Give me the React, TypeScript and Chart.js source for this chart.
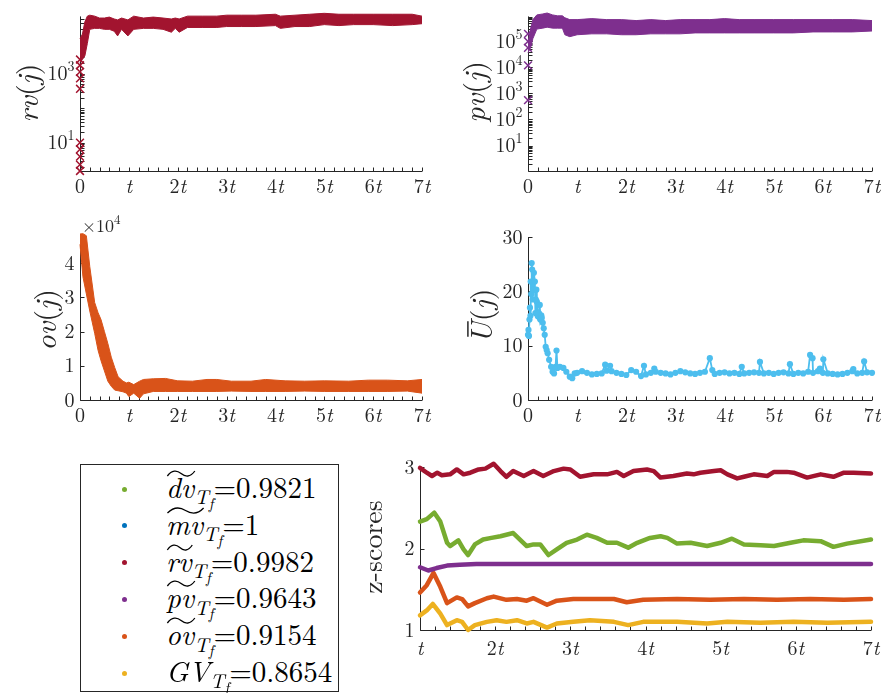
import React, { useEffect, useRef } from 'react';
import { Chart, registerables } from 'chart.js';

Chart.register(...registerables);

const W = 881;
const H = 693;
const AXIS = '#262626';
const SERIF = '"Latin Modern Roman", "Liberation Serif", serif';

const C_RV = '#A2142F';
const C_PV = '#7E2F8E';
const C_OV = '#D95319';
const C_U = '#4DBEEE';
const C_DV = '#77AC30';
const C_MV = '#0072BD';
const C_GV = '#EDB120';

// time axis, in units of t
const tTickValues = [0, 1, 2, 3, 4, 5, 6, 7];
const tTickLabels = ['0', 't', '2t', '3t', '4t', '5t', '6t', '7t'];
const zTimeTickValues = [1, 2, 3, 4, 5, 6, 7];
const zTimeTickLabels = ['t', '2t', '3t', '4t', '5t', '6t', '7t'];

// rv(j): spread of the sampled values (upper / lower edge) over time
const rvT = [0, 0.05, 0.1, 0.15, 0.2, 0.3, 0.4, 0.5, 0.6, 0.7, 0.77, 0.85, 0.98, 1.1, 1.3, 1.5, 1.7, 1.87, 1.95, 2.03, 2.2, 2.5, 2.8, 3.0, 3.3, 3.6, 4.0, 4.1, 4.4, 4.7, 5.0, 5.3, 5.6, 6.0, 6.4, 6.8, 7.0];
const rvHigh = [10300, 14150, 32100, 46900, 50000, 46900, 41300, 41300, 44000, 38800, 36500, 41300, 36500, 46900, 41300, 44000, 41300, 38800, 41300, 38800, 46900, 46900, 46900, 50000, 50000, 50000, 53200, 46900, 50000, 53200, 56600, 53200, 53200, 53200, 53200, 53200, 46900];
const rvLow = [2130, 2575, 3315, 7530, 19400, 20700, 20700, 19400, 19400, 17100, 12500, 19400, 12500, 19400, 20700, 20700, 19400, 16000, 20700, 16000, 22000, 22000, 22000, 23400, 23400, 23400, 24900, 20700, 23400, 23400, 26600, 24900, 26600, 26600, 24900, 26600, 28300];
const rvStart = [1.5, 2.3, 3.9, 6.4, 10, 365, 730, 1130, 1760, 2580];
const rvTickValues = [10, 1000];
const rvTickExponents = ['1', '3'];

// pv(j)
const pvT = [0, 0.05, 0.1, 0.18, 0.3, 0.39, 0.5, 0.6, 0.7, 0.75, 0.85, 1.0, 1.3, 1.6, 1.9, 2.2, 2.5, 2.8, 3.1, 3.4, 3.7, 4.0, 4.3, 4.6, 5.0, 5.4, 5.8, 6.2, 6.6, 7.0];
const pvHigh = [85000, 297000, 686000, 1040000, 1130000, 1230000, 1040000, 960000, 960000, 810000, 686000, 686000, 750000, 686000, 686000, 631000, 686000, 631000, 686000, 686000, 686000, 750000, 686000, 686000, 686000, 686000, 686000, 686000, 686000, 631000];
const pvLow = [36600, 56000, 129000, 297000, 323000, 351000, 323000, 323000, 323000, 180000, 152000, 180000, 195000, 195000, 180000, 180000, 195000, 195000, 195000, 212000, 212000, 212000, 212000, 212000, 212000, 212000, 231000, 231000, 231000, 251000];
const pvStart = [556, 12000, 56000, 100000, 195000];
const pvTickValues = [10, 100, 1000, 10000, 100000];
const pvTickExponents = ['1', '2', '3', '4', '5'];

// ov(j)
const ovT = [0, 0.06, 0.13, 0.2, 0.3, 0.37, 0.43, 0.5, 0.57, 0.64, 0.71, 0.78, 0.88, 0.95, 1.0, 1.1, 1.22, 1.3, 1.5, 1.75, 2.0, 2.3, 2.6, 2.8, 3.1, 3.5, 3.8, 4.2, 4.6, 5.0, 5.5, 5.9, 6.3, 6.7, 7.0];
const ovHigh = [48500, 48600, 48000, 39000, 28500, 25500, 23500, 20000, 16500, 12500, 9500, 6800, 5500, 5000, 5200, 4500, 5500, 6000, 6200, 6300, 5600, 5500, 6000, 6000, 5500, 5500, 6000, 5600, 5500, 5600, 5500, 5800, 5800, 5600, 6000];
const ovLow = [45500, 36000, 31000, 26000, 19500, 14500, 11500, 8500, 5500, 4000, 2900, 2700, 2400, 2000, 1000, 2000, 500, 1800, 2500, 2500, 2500, 2500, 2500, 2500, 2600, 2500, 2500, 2500, 2600, 2500, 2500, 2500, 2500, 2600, 2000];
const ovTickValues = [0, 10000, 20000, 30000, 40000];
const ovTickLabels = ['0', '1', '2', '3', '4'];

// Ū(j)
const uT = [0, 0.01, 0.02, 0.03, 0.04, 0.05, 0.055, 0.065, 0.075, 0.085, 0.095, 0.11, 0.12, 0.14, 0.15, 0.16, 0.17, 0.18, 0.2, 0.22, 0.24, 0.25, 0.27, 0.28, 0.3, 0.32, 0.34, 0.36, 0.38, 0.4, 0.43, 0.47, 0.5, 0.53, 0.56, 0.58, 0.6, 0.65, 0.72, 0.78, 0.85, 0.9, 0.95,
  1.0, 1.1, 1.2, 1.3, 1.4, 1.5, 1.57, 1.6, 1.67, 1.7, 1.8, 1.9, 2.0, 2.1, 2.2, 2.3, 2.36, 2.4, 2.5, 2.57, 2.6, 2.7, 2.8, 2.9, 3.0, 3.1, 3.2, 3.3, 3.4, 3.5, 3.6, 3.7, 3.75, 3.8, 3.9, 4.0, 4.1, 4.2, 4.3, 4.35, 4.4, 4.5, 4.6, 4.7, 4.72, 4.8, 4.9, 5.0, 5.1, 5.2, 5.3, 5.33, 5.4, 5.5, 5.6, 5.7, 5.74, 5.79, 5.8, 5.9, 5.94, 6.0, 6.01, 6.1, 6.2, 6.3, 6.4, 6.5, 6.6, 6.62, 6.7, 6.8, 6.84, 6.9, 7.0];
const uV = [12.0, 12.9, 11.8, 14.8, 17.0, 15.5, 21.8, 19.5, 25.2, 24.0, 18.5, 20.3, 23.4, 21.8, 16.0, 18.5, 20.3, 18.1, 15.4, 16.0, 17.5, 14.8, 15.6, 15.1, 14.2, 13.2, 12.0, 9.8, 9.2, 8.6, 7.4, 6.1, 5.2, 4.9, 6.1, 9.1, 5.9, 6.1, 5.9, 5.2, 4.3, 4.0, 4.9,
  5.0, 5.3, 5.0, 4.7, 4.8, 4.9, 6.5, 5.4, 6.3, 5.3, 5.0, 4.8, 4.6, 5.5, 5.2, 4.4, 6.3, 4.7, 5.0, 5.8, 5.2, 5.0, 4.9, 4.7, 5.0, 5.3, 5.1, 4.9, 4.8, 5.0, 5.2, 7.7, 5.5, 4.8, 5.0, 5.1, 4.9, 5.0, 4.8, 6.1, 4.9, 5.0, 5.1, 5.0, 7.0, 4.9, 5.0, 4.8, 5.0, 5.1, 4.9, 6.6, 4.8, 5.0, 4.9, 5.2, 8.3, 7.7, 5.0, 5.3, 5.8, 5.0, 7.5, 4.9, 4.8, 4.7, 4.8, 5.0, 5.3, 5.7, 4.9, 5.0, 7.1, 5.1, 5.0];
const uTickValues = [0, 10, 20, 30];
const uTickLabels = ['0', '10', '20', '30'];

// z-scores
const zRvT = [1.0, 1.09, 1.16, 1.23, 1.29, 1.40, 1.49, 1.58, 1.67, 1.78, 1.87, 1.98, 2.07, 2.15, 2.24, 2.38, 2.51, 2.64, 2.78, 2.91, 3.0, 3.13, 3.31, 3.49, 3.62, 3.71, 3.84, 4.02, 4.11, 4.20, 4.37, 4.55, 4.64, 4.73, 4.91, 5.0, 5.09, 5.22, 5.31, 5.44, 5.62, 5.71, 5.88, 5.97, 6.15, 6.33, 6.50, 6.64, 6.77, 7.0];
const zRv = [2.99, 2.93, 2.89, 2.93, 2.90, 2.91, 2.97, 2.91, 2.93, 2.97, 2.98, 3.04, 2.95, 2.88, 2.95, 2.89, 2.95, 2.89, 2.95, 2.98, 2.97, 2.88, 2.91, 2.91, 2.94, 2.89, 2.95, 2.97, 2.95, 2.87, 2.89, 2.92, 2.91, 2.93, 2.95, 2.96, 2.91, 2.86, 2.88, 2.91, 2.89, 2.94, 2.94, 2.93, 2.87, 2.91, 2.88, 2.93, 2.93, 2.92];
const zDvT = [1.0, 1.09, 1.19, 1.27, 1.36, 1.40, 1.51, 1.58, 1.64, 1.73, 1.84, 1.95, 2.07, 2.24, 2.33, 2.42, 2.51, 2.60, 2.71, 2.82, 2.95, 3.09, 3.22, 3.35, 3.49, 3.62, 3.77, 3.89, 4.06, 4.20, 4.29, 4.42, 4.60, 4.82, 5.0, 5.15, 5.31, 5.53, 5.71, 5.93, 6.10, 6.33, 6.50, 6.68, 7.0];
const zDv = [2.33, 2.36, 2.44, 2.33, 2.07, 2.03, 2.10, 1.99, 1.92, 2.05, 2.11, 2.13, 2.15, 2.19, 2.11, 2.03, 2.05, 2.05, 1.92, 1.99, 2.07, 2.11, 2.17, 2.13, 2.07, 2.07, 2.01, 2.07, 2.13, 2.15, 2.13, 2.06, 2.07, 2.03, 2.07, 2.12, 2.05, 2.04, 2.03, 2.07, 2.10, 2.09, 2.02, 2.06, 2.11];
const zPvT = [1.0, 1.11, 1.22, 1.36, 1.53, 1.75, 2.5, 3.5, 4.5, 5.5, 6.5, 7.0];
const zPv = [1.77, 1.73, 1.76, 1.79, 1.80, 1.81, 1.81, 1.81, 1.81, 1.81, 1.81, 1.81];
const zOvT = [1.0, 1.09, 1.18, 1.27, 1.36, 1.49, 1.56, 1.64, 1.73, 1.89, 1.98, 2.15, 2.29, 2.42, 2.51, 2.69, 2.82, 3.04, 3.31, 3.58, 3.75, 3.97, 4.42, 4.86, 5.31, 5.75, 6.19, 6.64, 7.0];
const zOv = [1.46, 1.55, 1.70, 1.53, 1.33, 1.40, 1.38, 1.29, 1.33, 1.39, 1.41, 1.37, 1.38, 1.36, 1.39, 1.31, 1.36, 1.38, 1.38, 1.38, 1.34, 1.37, 1.38, 1.37, 1.38, 1.37, 1.38, 1.37, 1.38];
const zGvT = [1.0, 1.09, 1.17, 1.27, 1.36, 1.49, 1.56, 1.64, 1.73, 1.89, 2.02, 2.15, 2.29, 2.42, 2.51, 2.69, 2.82, 3.04, 3.26, 3.58, 3.77, 3.97, 4.42, 4.82, 5.09, 5.53, 5.97, 6.42, 7.0];
const zGv = [1.18, 1.24, 1.32, 1.20, 1.06, 1.12, 1.10, 1.00, 1.06, 1.10, 1.12, 1.10, 1.12, 1.08, 1.10, 1.03, 1.08, 1.10, 1.12, 1.10, 1.06, 1.10, 1.10, 1.08, 1.10, 1.09, 1.10, 1.09, 1.10];
const zTickValues = [1, 2, 3];
const zTickLabels = ['1', '2', '3'];

// legend entries
const legendKeys = ['dv', 'mv', 'rv', 'pv', 'ov', 'GV'];
const legendTilde = [true, true, true, true, true, false];
const legendValues = ['0.9821', '1', '0.9982', '0.9643', '0.9154', '0.8654'];
const legendColors = [C_DV, C_MV, C_RV, C_PV, C_OV, C_GV];

type Run = { s: string; it?: boolean; sup?: boolean; bar?: boolean };

function fontFor(r: Run, size: number) {
  const sz = r.sup ? Math.round(size * 0.7) : size;
  return `${r.it ? 'italic ' : ''}${sz}px ${SERIF}`;
}

function drawRuns(ctx: CanvasRenderingContext2D, runs: Run[], x: number, y: number, align: 'left' | 'center' | 'right', size: number) {
  let total = 0;
  for (const r of runs) {
    ctx.font = fontFor(r, size);
    total += ctx.measureText(r.s).width;
  }
  let cx = align === 'center' ? x - total / 2 : align === 'right' ? x - total : x;
  const base = y + size * 0.33;
  ctx.textAlign = 'left';
  ctx.textBaseline = 'alphabetic';
  for (const r of runs) {
    ctx.font = fontFor(r, size);
    const w = ctx.measureText(r.s).width;
    ctx.fillText(r.s, cx, r.sup ? base - size * 0.45 : base);
    if (r.bar) {
      ctx.beginPath();
      ctx.lineWidth = Math.max(1, size * 0.05);
      ctx.moveTo(cx + w * 0.3, base - size * 0.8);
      ctx.lineTo(cx + w * 1.0, base - size * 0.8);
      ctx.stroke();
    }
    cx += w;
  }
}

function timeRuns(label: string): Run[] {
  if (label.endsWith('t')) {
    const head = label.slice(0, -1);
    return head ? [{ s: head }, { s: 't', it: true }] : [{ s: 't', it: true }];
  }
  return [{ s: label }];
}

function powRuns(exp: string): Run[] {
  return [{ s: '10' }, { s: exp, sup: true }];
}

function stepTicks(min: number, max: number, step: number) {
  const out: number[] = [];
  for (let i = 0; min + i * step <= max + 1e-9; i++) out.push(+(min + i * step).toFixed(6));
  return out;
}

function logTicks(min: number, max: number) {
  const out: number[] = [];
  for (let k = -1; k <= 7; k++) {
    for (let m = 1; m <= 9; m++) {
      const v = m * Math.pow(10, k);
      if (v >= min && v <= max) out.push(v);
    }
  }
  return out;
}

interface Panel {
  area: [number, number, number, number];
  headroom: number;
  xMin: number;
  xMax: number;
  yType: 'linear' | 'logarithmic';
  yMin: number;
  yMax: number;
  xTicks: number[];
  xTickText: string[];
  xLabelGap: number;
  yTicks: number[];
  yTickText: Run[][];
  yMinor: number[];
  yLabel: Run[];
  yLabelAt: [number, number];
  yLabelSize: number;
  note?: { runs: Run[]; at: [number, number]; size: number };
  datasets: any[];
}

const pts = (xs: number[], ys: number[]) => xs.map((x, i) => ({ x, y: ys[i] }));

function band(xs: number[], high: number[], low: number[], color: string) {
  return [
    { data: pts(xs, high), borderColor: color, backgroundColor: color, borderWidth: 1, pointRadius: 0, fill: false, clip: false },
    { data: pts(xs, low), borderColor: color, backgroundColor: color, borderWidth: 1, pointRadius: 0, fill: '-1', clip: false },
  ];
}

function startMarks(values: number[], color: string) {
  return {
    data: values.map((v) => ({ x: 0, y: v })),
    showLine: false,
    pointStyle: 'crossRot',
    pointRadius: 5.5,
    borderColor: color,
    borderWidth: 1.5,
    clip: false,
  };
}

function zLine(xs: number[], ys: number[], color: string) {
  return {
    data: pts(xs, ys),
    borderColor: color,
    borderWidth: 4.5,
    pointRadius: 0,
    borderCapStyle: 'round',
    borderJoinStyle: 'round',
    clip: false,
  };
}

function buildPanels(): Panel[] {
  const rvMin = 1.5, rvMax = 46000;
  const pvMin = 1.05, pvMax = 910000;
  return [
    {
      area: [80, 7, 422, 171], headroom: 10, xMin: 0, xMax: 7, yType: 'logarithmic', yMin: rvMin, yMax: rvMax,
      xTicks: tTickValues, xTickText: tTickLabels, xLabelGap: 15,
      yTicks: rvTickValues, yTickText: rvTickExponents.map(powRuns), yMinor: logTicks(rvMin, rvMax),
      yLabel: [{ s: 'rv', it: true }, { s: '(' }, { s: 'j', it: true }, { s: ')' }], yLabelAt: [30, 93], yLabelSize: 30,
      datasets: [...band(rvT, rvHigh, rvLow, C_RV), startMarks(rvStart, C_RV)],
    },
    {
      area: [528, 7, 872, 171], headroom: 10, xMin: 0, xMax: 7, yType: 'logarithmic', yMin: pvMin, yMax: pvMax,
      xTicks: tTickValues, xTickText: tTickLabels, xLabelGap: 15,
      yTicks: pvTickValues, yTickText: pvTickExponents.map(powRuns), yMinor: logTicks(pvMin, pvMax),
      yLabel: [{ s: 'pv', it: true }, { s: '(' }, { s: 'j', it: true }, { s: ')' }], yLabelAt: [477, 92], yLabelSize: 30,
      datasets: [...band(pvT, pvHigh, pvLow, C_PV), startMarks(pvStart, C_PV)],
    },
    {
      area: [80, 234, 422, 400], headroom: 6, xMin: 0, xMax: 7, yType: 'linear', yMin: 0, yMax: 48500,
      xTicks: tTickValues, xTickText: tTickLabels, xLabelGap: 15,
      yTicks: ovTickValues, yTickText: ovTickLabels.map((s) => [{ s }]), yMinor: [],
      yLabel: [{ s: 'ov', it: true }, { s: '(' }, { s: 'j', it: true }, { s: ')' }], yLabelAt: [48, 320], yLabelSize: 30,
      note: { runs: [{ s: '×10' }, { s: '4', sup: true }], at: [82, 226], size: 18 },
      datasets: band(ovT, ovHigh, ovLow, C_OV),
    },
    {
      area: [528, 237, 872, 400], headroom: 0, xMin: 0, xMax: 7, yType: 'linear', yMin: 0, yMax: 30,
      xTicks: tTickValues, xTickText: tTickLabels, xLabelGap: 15,
      yTicks: uTickValues, yTickText: uTickLabels.map((s) => [{ s }]), yMinor: [],
      yLabel: [{ s: 'U', it: true, bar: true }, { s: '(' }, { s: 'j', it: true }, { s: ')' }], yLabelAt: [484, 316], yLabelSize: 30,
      datasets: [{
        data: pts(uT, uV), borderColor: C_U, backgroundColor: C_U, borderWidth: 1.8,
        pointRadius: 3.1, pointBorderWidth: 0, pointBackgroundColor: C_U, clip: false,
      }],
    },
    {
      area: [420, 467, 871, 630], headroom: 0, xMin: 1, xMax: 7, yType: 'linear', yMin: 1, yMax: 3,
      xTicks: zTimeTickValues, xTickText: zTimeTickLabels, xLabelGap: 18,
      yTicks: zTickValues, yTickText: zTickLabels.map((s) => [{ s }]), yMinor: [],
      yLabel: [{ s: 'z-scores' }], yLabelAt: [375, 547], yLabelSize: 28,
      datasets: [
        zLine(zRvT, zRv, C_RV),
        zLine(zDvT, zDv, C_DV),
        zLine(zPvT, zPv, C_PV),
        zLine(zOvT, zOv, C_OV),
        zLine(zGvT, zGv, C_GV),
      ],
    },
  ];
}

function axesPlugin(p: Panel) {
  return {
    id: 'matlabAxes',
    beforeDatasetsDraw(chart: any) {
      const ctx: CanvasRenderingContext2D = chart.ctx;
      const xs = chart.scales.x;
      const ys = chart.scales.y;
      const { left, right, bottom } = chart.chartArea;
      const top = ys.getPixelForValue(p.yMax);
      const lx = Math.round(left) + 0.5;
      const by = Math.round(bottom) + 0.5;
      ctx.save();
      ctx.strokeStyle = AXIS;
      ctx.fillStyle = AXIS;
      ctx.lineWidth = 1;
      ctx.beginPath();
      ctx.moveTo(lx, top);
      ctx.lineTo(lx, by);
      ctx.lineTo(right, by);
      ctx.stroke();

      const tick = 4;
      ctx.beginPath();
      for (const v of stepTicks(p.xMin, p.xMax, 0.2)) {
        const px = Math.round(xs.getPixelForValue(v)) + 0.5;
        ctx.moveTo(px, by);
        ctx.lineTo(px, by - tick);
      }
      for (const v of [...p.yTicks, ...p.yMinor]) {
        const py = Math.round(ys.getPixelForValue(v)) + 0.5;
        ctx.moveTo(lx, py);
        ctx.lineTo(lx + tick, py);
      }
      ctx.stroke();

      const tickSize = 20;
      p.xTicks.forEach((v, i) => {
        drawRuns(ctx, timeRuns(p.xTickText[i]), xs.getPixelForValue(v), by + p.xLabelGap, 'center', tickSize);
      });
      p.yTicks.forEach((v, i) => {
        drawRuns(ctx, p.yTickText[i], lx - 6, ys.getPixelForValue(v), 'right', tickSize);
      });

      if (p.note) drawRuns(ctx, p.note.runs, p.note.at[0], p.note.at[1], 'left', p.note.size);

      ctx.save();
      ctx.translate(p.yLabelAt[0], p.yLabelAt[1]);
      ctx.rotate(-Math.PI / 2);
      drawRuns(ctx, p.yLabel, 0, -2, 'center', p.yLabelSize);
      ctx.restore();
      ctx.restore();
    },
  };
}

// The fill is clipped to the chart area, so the plotting range gets a little
// headroom above the axis top; the axis line itself stops at yMax.
function plotMax(p: Panel) {
  const [, T, , B] = p.area;
  const k = p.headroom / (B - T);
  if (p.yType === 'logarithmic') {
    const lo = Math.log10(p.yMin), hi = Math.log10(p.yMax);
    return Math.pow(10, hi + k * (hi - lo));
  }
  return p.yMax + k * (p.yMax - p.yMin);
}

function makeChart(canvas: HTMLCanvasElement, p: Panel) {
  const [L, T, R, B] = p.area;
  return new Chart(canvas, {
    type: 'line',
    data: { datasets: p.datasets },
    options: {
      responsive: false,
      maintainAspectRatio: false,
      animation: false,
      devicePixelRatio: 1,
      events: [],
      layout: { padding: { left: L, top: T - p.headroom, right: W - R, bottom: H - B } },
      plugins: { legend: { display: false }, tooltip: { enabled: false } },
      scales: {
        x: { type: 'linear', display: false, min: p.xMin, max: p.xMax },
        y: { type: p.yType, display: false, min: p.yMin, max: plotMax(p) },
      },
    } as any,
    plugins: [axesPlugin(p)],
  });
}

function Tilde() {
  return (
    <svg
      style={{ position: 'absolute', left: 1, top: 1, width: '100%', height: 7, overflow: 'visible' }}
      viewBox="0 0 40 7"
      preserveAspectRatio="none"
    >
      <path d="M0.5 6 C 7 0, 14 0, 20 3.5 S 33 7.5, 39.5 1" stroke="#000" strokeWidth={1.3} fill="none" vectorEffect="non-scaling-stroke" />
    </svg>
  );
}

function Legend() {
  return (
    <div
      style={{
        position: 'absolute', left: 80, top: 464, width: 259, height: 228, boxSizing: 'border-box',
        border: `1px solid ${AXIS}`, background: '#fff', fontFamily: SERIF, color: '#000',
      }}
    >
      {legendKeys.map((key, i) => {
        const cy = 24 + i * 36.8;
        return (
          <React.Fragment key={key}>
            <div style={{ position: 'absolute', left: 40.5, top: cy - 2.5, width: 5, height: 5, borderRadius: '50%', background: legendColors[i] }} />
            <div style={{ position: 'absolute', left: 85, top: cy - 20, height: 34, lineHeight: '34px', fontSize: 29, whiteSpace: 'nowrap' }}>
              <span style={{ position: 'relative', display: 'inline-block', fontStyle: 'italic' }}>
                {legendTilde[i] && <Tilde />}
                {key}
              </span>
              <span style={{ fontStyle: 'italic', fontSize: '0.7em', position: 'relative', top: '0.32em' }}>
                T<span style={{ fontSize: '0.75em', position: 'relative', top: '0.3em' }}>f</span>
              </span>
              <span>={legendValues[i]}</span>
            </div>
          </React.Fragment>
        );
      })}
    </div>
  );
}

export default function App() {
  const canvases = useRef<(HTMLCanvasElement | null)[]>([]);

  useEffect(() => {
    const panels = buildPanels();
    const charts = panels.map((p, i) => makeChart(canvases.current[i] as HTMLCanvasElement, p));
    return () => charts.forEach((c) => c.destroy());
  }, []);

  return (
    <div style={{ position: 'fixed', left: 0, top: 0, width: W, height: H, background: '#fff', overflow: 'hidden' }}>
      {[0, 1, 2, 3, 4].map((i) => (
        <canvas
          key={i}
          ref={(el) => { canvases.current[i] = el; }}
          width={W}
          height={H}
          style={{ position: 'absolute', left: 0, top: 0, width: W, height: H }}
        />
      ))}
      <Legend />
    </div>
  );
}
